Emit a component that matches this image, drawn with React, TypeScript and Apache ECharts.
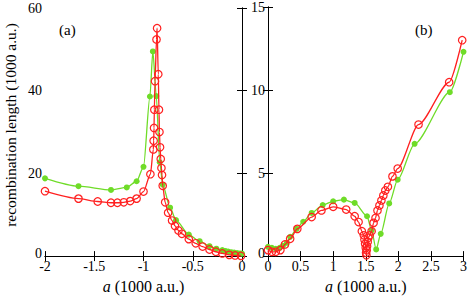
import React, { useEffect, useRef } from "react";
import * as echarts from "echarts";

const GREEN = "#6fdc28";
const RED = "#ff2020";
const FONT = "'Liberation Serif', 'Times New Roman', Times, serif";

// Panel (a): a in [-2, 0], recombination length (1000 a.u.)
const greenA: [number, number][] = [
  [-2, 18.8], [-1.66, 16.9], [-1.33, 16.0], [-1.17, 16.6], [-1.07, 18.1], [-1.0, 21.6],
  [-0.935, 38.6], [-0.905, 49.5], [-0.87, 38.7], [-0.835, 22.7], [-0.805, 17.3],
  [-0.73, 11.7], [-0.67, 8.7], [-0.54, 5.2], [-0.43, 3.6], [-0.33, 2.4], [-0.26, 1.8],
  [-0.2, 1.45], [-0.17, 1.25], [-0.14, 1.1], [-0.11, 0.95], [-0.08, 0.85], [-0.05, 0.75],
  [-0.02, 0.65], [0, 0.6],
];
const redA: [number, number][] = [
  [-2, 15.7], [-1.66, 13.9], [-1.465, 13.2], [-1.33, 12.9], [-1.265, 12.9], [-1.2, 13.0],
  [-1.135, 13.3], [-1.07, 13.9], [-1.0, 15.6], [-0.93, 19.8], [-0.9, 25.8], [-0.897, 27.9],
  [-0.893, 31.0], [-0.89, 35.4], [-0.883, 42.3], [-0.868, 52.4], [-0.862, 55.1],
  [-0.85, 44.0], [-0.843, 35.4], [-0.838, 30.0], [-0.832, 26.3], [-0.825, 23.5],
  [-0.818, 21.3], [-0.812, 19.6], [-0.805, 17.0], [-0.78, 13.0], [-0.75, 10.5],
  [-0.71, 8.6], [-0.68, 7.3], [-0.645, 6.2], [-0.61, 5.4], [-0.54, 4.1], [-0.47, 3.1],
  [-0.4, 2.3], [-0.33, 1.6], [-0.265, 1.05], [-0.2, 0.65], [-0.13, 0.3], [-0.07, 0.15],
  [-0.01, 0.05],
];

// Panel (b): a in [0, 3]
const greenB: [number, number][] = [
  [0.0, 0.56], [0.06, 0.5], [0.12, 0.44], [0.18, 0.5], [0.23, 0.62], [0.29, 0.8],
  [0.34, 1.16], [0.44, 1.64], [0.54, 2.07], [0.67, 2.6], [0.84, 3.07], [1.0, 3.3],
  [1.165, 3.4], [1.33, 3.2], [1.52, 2.4], [1.59, 1.54], [1.66, 0.4], [1.73, 1.34],
  [1.86, 3.17], [1.99, 4.6], [2.25, 6.76], [2.79, 9.87], [3.0, 12.3],
];
const redB: [number, number][] = [
  [0.0, 0.36], [0.06, 0.26], [0.12, 0.26], [0.19, 0.36], [0.26, 0.7], [0.34, 1.04],
  [0.45, 1.64], [0.67, 2.35], [0.82, 2.75], [1.0, 2.97], [1.2, 2.8], [1.33, 2.4],
  [1.39, 2.05], [1.44, 1.5], [1.47, 1.25], [1.48, 1.0], [1.49, 0.75], [1.5, 0.5],
  [1.505, 0.2], [1.51, 0.05], [1.515, 0.35], [1.52, 0.6], [1.53, 0.85], [1.54, 1.1],
  [1.56, 1.25], [1.59, 1.5], [1.62, 2.0], [1.65, 2.3], [1.68, 2.75], [1.71, 3.05],
  [1.74, 3.35], [1.77, 3.65], [1.8, 3.95], [1.84, 4.17], [1.91, 4.8], [1.99, 5.27],
  [2.31, 7.92], [2.78, 10.47], [2.98, 13.0],
];

const xTicksA = [-2, -1.5, -1, -0.5, 0];
const xTicksB = [0, 0.5, 1, 1.5, 2, 2.5, 3];
const yLabel = "recombination length (1000 a.u.)";

const fmtNum = (v: number) => String(v);

export default function App() {
  const ref = useRef<HTMLDivElement>(null);
  useEffect(() => {
    if (!ref.current) return;
    const chart = echarts.init(ref.current, undefined, { renderer: "svg" });
    const axisLine = { show: true, lineStyle: { color: "#000", width: 1 } };
    const tick = { show: true, inside: true, length: 5, lineStyle: { color: "#000" } };
    const label = { color: "#000", fontFamily: FONT, fontSize: 14, margin: 3 };
    const xName = "{i|a} (1000 a.u.)";
    const xNameStyle = {
      color: "#000", fontFamily: FONT, fontSize: 16,
      rich: { i: { fontStyle: "italic", fontFamily: FONT, fontSize: 16, color: "#000" } },
    };
    const mkX = (grid: number, min: number, max: number, pos: "bottom" | "top", showLabel: boolean) => ({
      type: "value", gridIndex: grid, min, max, interval: 0.5, position: pos,
      axisLine, axisTick: tick, splitLine: { show: false },
      axisLabel: { ...label, show: showLabel, formatter: fmtNum },
      name: showLabel ? xName : "", nameLocation: "middle", nameGap: 19, nameTextStyle: xNameStyle,
    });
    const mkY = (grid: number, max: number, interval: number, pos: "left" | "right", showLabel: boolean) => ({
      type: "value", gridIndex: grid, min: 0, max, interval, position: pos,
      axisLine, axisTick: tick, splitLine: { show: false },
      axisLabel: {
        ...label, show: showLabel,
        formatter: (v: number) => (v === 0 ? "{z|0}" : String(v)),
        rich: { z: { fontFamily: FONT, fontSize: 14, color: "#000", padding: [0, 0, 5, 0] } },
      },
    });
    const greenSeries = (data: [number, number][], xi: number, yi: number) => ({
      type: "line", xAxisIndex: xi, yAxisIndex: yi, data,
      symbol: "circle", symbolSize: 6, smooth: 0.25, smoothMonotone: "x",
      lineStyle: { color: GREEN, width: 1.3 },
      itemStyle: { color: GREEN, borderWidth: 0 },
      z: 2,
    });
    const redSeries = (data: [number, number][], xi: number, yi: number) => ({
      type: "line", xAxisIndex: xi, yAxisIndex: yi, data,
      symbol: "circle", symbolSize: 7.5, smooth: 0.25, smoothMonotone: "x",
      lineStyle: { color: RED, width: 1.3 },
      itemStyle: { color: "rgba(0,0,0,0)", borderColor: RED, borderWidth: 1.2 },
      z: 3,
    });
    chart.setOption({
      animation: false,
      backgroundColor: "#fff",
      textStyle: { fontFamily: FONT },
      grid: [
        { left: 45, right: 228, top: 8, bottom: 42 },
        { left: 268, right: 3, top: 7, bottom: 42 },
      ],
      xAxis: [
        mkX(0, xTicksA[0], xTicksA[xTicksA.length - 1], "bottom", true),
        mkX(0, xTicksA[0], xTicksA[xTicksA.length - 1], "top", false),
        mkX(1, xTicksB[0], xTicksB[xTicksB.length - 1], "bottom", true),
        mkX(1, xTicksB[0], xTicksB[xTicksB.length - 1], "top", false),
      ],
      yAxis: [
        mkY(0, 60, 20, "left", true),
        mkY(0, 60, 20, "right", false),
        mkY(1, 15, 5, "left", true),
        mkY(1, 15, 5, "right", false),
      ],
      series: [
        greenSeries(greenA, 0, 0),
        redSeries(redA, 0, 0),
        greenSeries(greenB, 2, 2),
        redSeries(redB, 2, 2),
      ],
      graphic: [
        {
          type: "text", x: 10, y: 125, rotation: Math.PI / 2,
          style: { text: yLabel, fontFamily: FONT, fontSize: 15.5, fill: "#000", align: "center", verticalAlign: "middle" },
        },
        { type: "text", left: 59, top: 22, style: { text: "(a)", fontFamily: FONT, fontSize: 15, fill: "#000" } },
        { type: "text", left: 415, top: 22, style: { text: "(b)", fontFamily: FONT, fontSize: 15, fill: "#000" } },
      ],
    });
    return () => chart.dispose();
  }, []);
  return <div ref={ref} style={{ width: 470, height: 299, position: "absolute", left: 0, top: 0 }} />;
}
